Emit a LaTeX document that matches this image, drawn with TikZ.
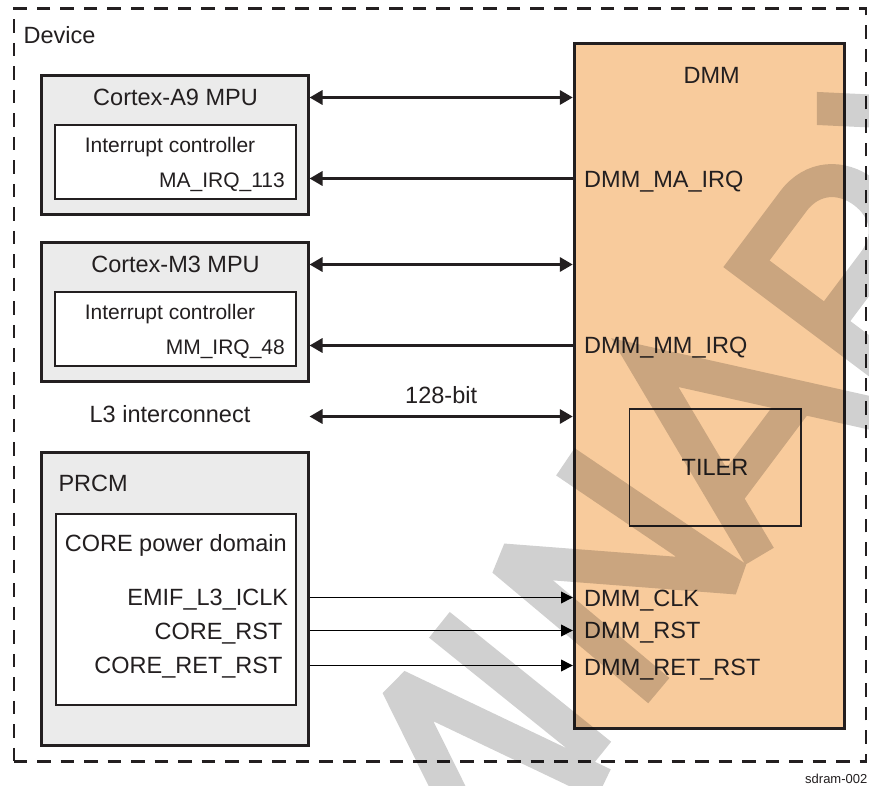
\documentclass[tikz,border=0pt]{standalone}
\usepackage{fontspec}
\setmainfont{Liberation Sans}
\usetikzlibrary{arrows.meta}
\definecolor{linec}{HTML}{231F20}
\definecolor{boxgray}{HTML}{EBEBEB}
\definecolor{dmmor}{HTML}{F8CB9C}
\begin{document}
\begin{tikzpicture}[x=1pt,y=-1pt,
  big/.style={font=\fontsize{23.5}{28}\selectfont, text=linec, inner sep=0pt},
  small/.style={font=\fontsize{21}{25}\selectfont, text=linec, inner sep=0pt},
  tiny/.style={font=\fontsize{13}{15}\selectfont, text=linec, inner sep=0pt},
  devbox/.style={draw=linec, line width=2.4pt, dash pattern=on 13.5pt off 10pt, inner sep=0pt},
  outerbox/.style={draw=linec, line width=3pt, fill=boxgray, inner sep=0pt},
  innerbox/.style={draw=linec, line width=2pt, fill=white, inner sep=0pt},
  dmmbox/.style={draw=linec, line width=3pt, fill=dmmor, inner sep=0pt},
  tilerbox/.style={draw=linec, line width=1.8pt, inner sep=0pt},
  bus/.style={line width=3.2pt, draw=linec, {Triangle[length=13pt,width=14pt]}-{Triangle[length=13pt,width=14pt]}},
  irq/.style={line width=3.2pt, draw=linec, {Triangle[length=13pt,width=14pt]}-},
  sig/.style={line width=1.3pt, draw=black, -{Triangle[length=11.7pt,width=11.7pt]}},
  wm/.style={line width=33pt, draw=black, draw opacity=0.185, line join=miter, miter limit=3}
]
\useasboundingbox (0,0) rectangle (869,786);
\fill[white] (0,0) rectangle (869,786);

% Device frame
\node[devbox, minimum width=852.1pt, minimum height=752.6pt] (device) at (439.75,385) {};
\node[big, anchor=base west] (devlbl) at (23.5,44) {Device};

% Cortex-A9
\node[outerbox, minimum width=266.5pt, minimum height=139.5pt] (a9) at (174.75,145.25) {};
\node[innerbox, minimum width=241pt, minimum height=73.5pt] (a9ic) at (175,162.25) {};
\node[big, anchor=base] (a9lbl) at (175.5,105.7) {Cortex-A9 MPU};
\node[small, anchor=base] (a9iclbl) at (170,153) {Interrupt controller};
\node[small, anchor=base east] (a9irq) at (285,188) {MA\_IRQ\_113};

% Cortex-M3
\node[outerbox, minimum width=266.5pt, minimum height=139.5pt] (m3) at (174.75,311.95) {};
\node[innerbox, minimum width=241pt, minimum height=73.5pt] (m3ic) at (175,328.95) {};
\node[big, anchor=base] (m3lbl) at (175.5,272.4) {Cortex-M3 MPU};
\node[small, anchor=base] (m3iclbl) at (170,319.7) {Interrupt controller};
\node[small, anchor=base east] (m3irq) at (285,354.7) {MM\_IRQ\_48};

% L3
\node[big, anchor=base] (l3) at (170,422) {L3 interconnect};

% PRCM
\node[outerbox, minimum width=267.3pt, minimum height=292.3pt] (prcm) at (174.65,598.85) {};
\node[innerbox, minimum width=239.3pt, minimum height=190.7pt] (core) at (175.85,609.15) {};
\node[big, anchor=base west] (prcmlbl) at (58.3,491.7) {PRCM};
\node[big, anchor=base] (corelbl) at (175.8,551.7) {CORE power domain};
\node[big, anchor=base east] (emif) at (288.3,605.7) {EMIF\_L3\_ICLK};
\node[big, anchor=base east] (crst) at (282.7,639) {CORE\_RST};
\node[big, anchor=base east] (cret) at (282.7,673.3) {CORE\_RET\_RST};

% DMM
\node[dmmbox, minimum width=270pt, minimum height=685pt] (dmm) at (709.3,385.8) {};
\node[tilerbox, minimum width=171.5pt, minimum height=117pt] (tiler) at (715.25,467.5) {};
\node[big, anchor=base] (dmmlbl) at (711.7,84) {DMM};
\node[big, anchor=base] (tilerlbl) at (715,475.7) {TILER};
\node[big, anchor=base west] (dmaq) at (584,187.3) {DMM\_MA\_IRQ};
\node[big, anchor=base west] (dmmq) at (584,353.3) {DMM\_MM\_IRQ};
\node[big, anchor=base west] (dclk) at (584,606.7) {DMM\_CLK};
\node[big, anchor=base west] (drst) at (584,638.3) {DMM\_RST};
\node[big, anchor=base west] (dret) at (584,675) {DMM\_RET\_RST};

% connectors
\coordinate (ya) at (0,97.5);
\coordinate (yb) at (0,178.5);
\coordinate (yc) at (0,264.5);
\coordinate (yd) at (0,345.5);
\coordinate (ye) at (0,416.5);
\coordinate (yf) at (0,597.5);
\coordinate (yg) at (0,630.5);
\coordinate (yh) at (0,665.5);
\draw[bus] (a9.east |- ya) -- (dmm.west |- ya);
\draw[irq] (a9.east |- yb) -- (dmm.west |- yb);
\draw[bus] (m3.east |- yc) -- (dmm.west |- yc);
\draw[irq] (m3.east |- yd) -- (dmm.west |- yd);
\draw[bus] (m3.east |- ye) -- node[big, above=11pt] (bits) {128-bit} (dmm.west |- ye);
\draw[sig] (prcm.east |- yf) -- (dmm.west |- yf);
\draw[sig] (prcm.east |- yg) -- (dmm.west |- yg);
\draw[sig] (prcm.east |- yh) -- (dmm.west |- yh);

\node[tiny, anchor=base west] (fig) at (805,783) {sdram-002};

% watermark (rotated text frame: x = reading direction, y = downward in letters)
\begin{scope}[shift={(588.8,445.6)}, x={(0.6pt,0.8pt)}, y={(0.8pt,-0.6pt)}]
  \draw[wm]
    (-420,215) -- (-307,-9) -- (-262,215)            % M
    (-233,-12) -- (-240,195)                          % I
    (-154,203) -- (-143,0) -- (-17,198) -- (-27,-9)   % N
    (14,203) -- (100,-5) -- (197,210)                 % A
    (38,140) -- (166,140)
    (240,235) -- (240,17) -- (318,17) .. controls (350,17) and (368,40) .. (368,68)
      .. controls (368,96) and (350,118) .. (318,118) -- (240,118)   % R
    (305,118) -- (390,235);
  \begin{scope}
    \clip (380,0) rectangle (700,300);
    \draw[wm] (401,-28) -- (496,112);                % Y
  \end{scope}
\end{scope}
\end{tikzpicture}
\end{document}
